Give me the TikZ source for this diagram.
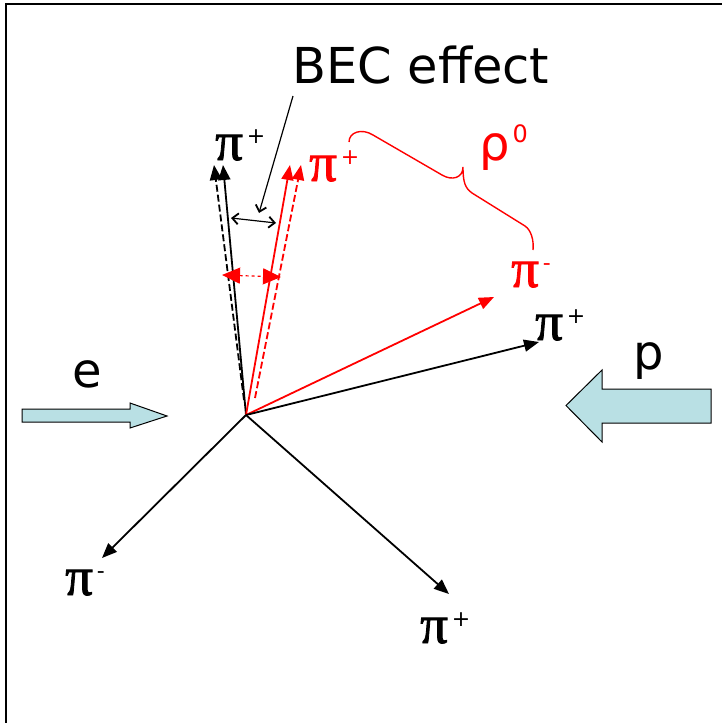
\documentclass[tikz,border=0pt]{standalone}
\usepackage{fontspec}
\setmainfont{DejaVu Sans}
\newfontfamily\pifont[FakeBold=1.5]{Liberation Serif}
\usetikzlibrary{arrows.meta}
\definecolor{beamc}{RGB}{185,224,228}
\newcommand\bigtxt{\fontsize{48}{50}\selectfont}
\newcommand\pisize{\fontsize{55}{56}\selectfont}
\newcommand\suptxt{\fontsize{22}{22}\selectfont}
\newcommand\pilab[1]{{\pifont\pisize π}\hspace{4pt}\raisebox{17pt}{\suptxt #1}}
\begin{document}
\begin{tikzpicture}[x=1pt,y=-1pt,
  lbl/.style={anchor=base west, inner sep=0pt},
  trk/.style={line width=1.8pt, -{Triangle[length=15pt,width=12pt]}},
  dtrk/.style={trk, dash pattern=on 7pt off 3pt},
  becarr/.style={line width=1.2pt, {Straight Barb[length=6pt,width=11pt,line width=1.8pt]}-{Straight Barb[length=6pt,width=11pt,line width=1.8pt]}},
  redbec/.style={red, line width=1.2pt, dash pattern=on 3pt off 3pt, {Triangle[length=18pt,width=16pt]}-{Triangle[length=18pt,width=16pt]}},
  beam/.style={draw=black, line width=1pt, fill=beamc}]
\useasboundingbox (0,0) rectangle (722,723);
\draw[line width=2pt] (6,723) -- (6,4) -- (722,4);
% vertex and track ends
\coordinate (O) at (246,415);
\coordinate (tBs) at (223,165);
\coordinate (sBd) at (244,400);
\coordinate (tBd) at (214,165);
\coordinate (tRs) at (290,165);
\coordinate (sRd) at (255,398);
\coordinate (tRd) at (301,165);
\coordinate (tRm) at (494,297);
\coordinate (tBr) at (539,342);
\coordinate (tBl) at (102,558);
\coordinate (tBb) at (449,594);
% tracks
\draw[dtrk] (sBd) -- (tBd);
\draw[trk] (O) -- (tBs);
\draw[dtrk, red] (sRd) -- (tRd);
\draw[trk, red] (O) -- (tRs);
\draw[trk, red] (O) -- (tRm);
\draw[trk] (O) -- (tBr);
\draw[trk] (O) -- (tBl);
\draw[trk] (O) -- (tBb);
% BEC arrows
\coordinate (b1) at (231,218);
\coordinate (b2) at (276,223);
\draw[becarr] (b1) -- (b2);
\coordinate (r1) at (222,275);
\coordinate (r2) at (281,277);
\draw[redbec] (r1) -- (r2);
% labels
\node[lbl] (bec) at (292,83) {\fontsize{49.5}{52}\selectfont BEC effect};
\coordinate (pS) at (293,96);
\coordinate (pE) at (259,213);
\draw[line width=1.2pt, -{Straight Barb[length=6pt,width=11pt,line width=1.8pt]}] (pS) -- (pE);
\node[lbl] (piTop) at (215,160) {\pilab{+}};
\node[lbl, red] (piRp) at (309,181) {\pilab{+}};
\node[lbl, red] (piRm) at (511,287) {\pilab{-}};
\node[lbl] (piR) at (535,340) {\pilab{+}};
\node[lbl] (piBL) at (65,595) {\pilab{-}};
\node[lbl] (piB) at (420,643) {\pilab{+}};
\node[lbl, red] (rho) at (479,160) {\bigtxt ρ\hspace{3pt}\raisebox{18pt}{\fontsize{24}{24}\selectfont 0}};
% brace
\draw[red, line width=1.4pt] (349,142) .. controls (349,132) and (362,128) .. (373,135) -- (442,175)
  .. controls (452,181) and (463,178) .. (463,167)
  .. controls (463,182) and (465,188) .. (472,193) -- (525,226)
  .. controls (531,230) and (534,240) .. (533,250);
% beams
\node[lbl] (e) at (72,387) {\bigtxt e};
\draw[beam] (22,409) -- (130,409) -- (130,403) -- (167,416) -- (130,428) -- (130,422) -- (22,422) -- cycle;
\node[lbl] (p) at (633,369) {\bigtxt p};
\draw[beam] (711,389) -- (602,389) -- (602,370) -- (566,405.5) -- (602,442) -- (602,423) -- (711,423) -- cycle;
\end{tikzpicture}
\end{document}
